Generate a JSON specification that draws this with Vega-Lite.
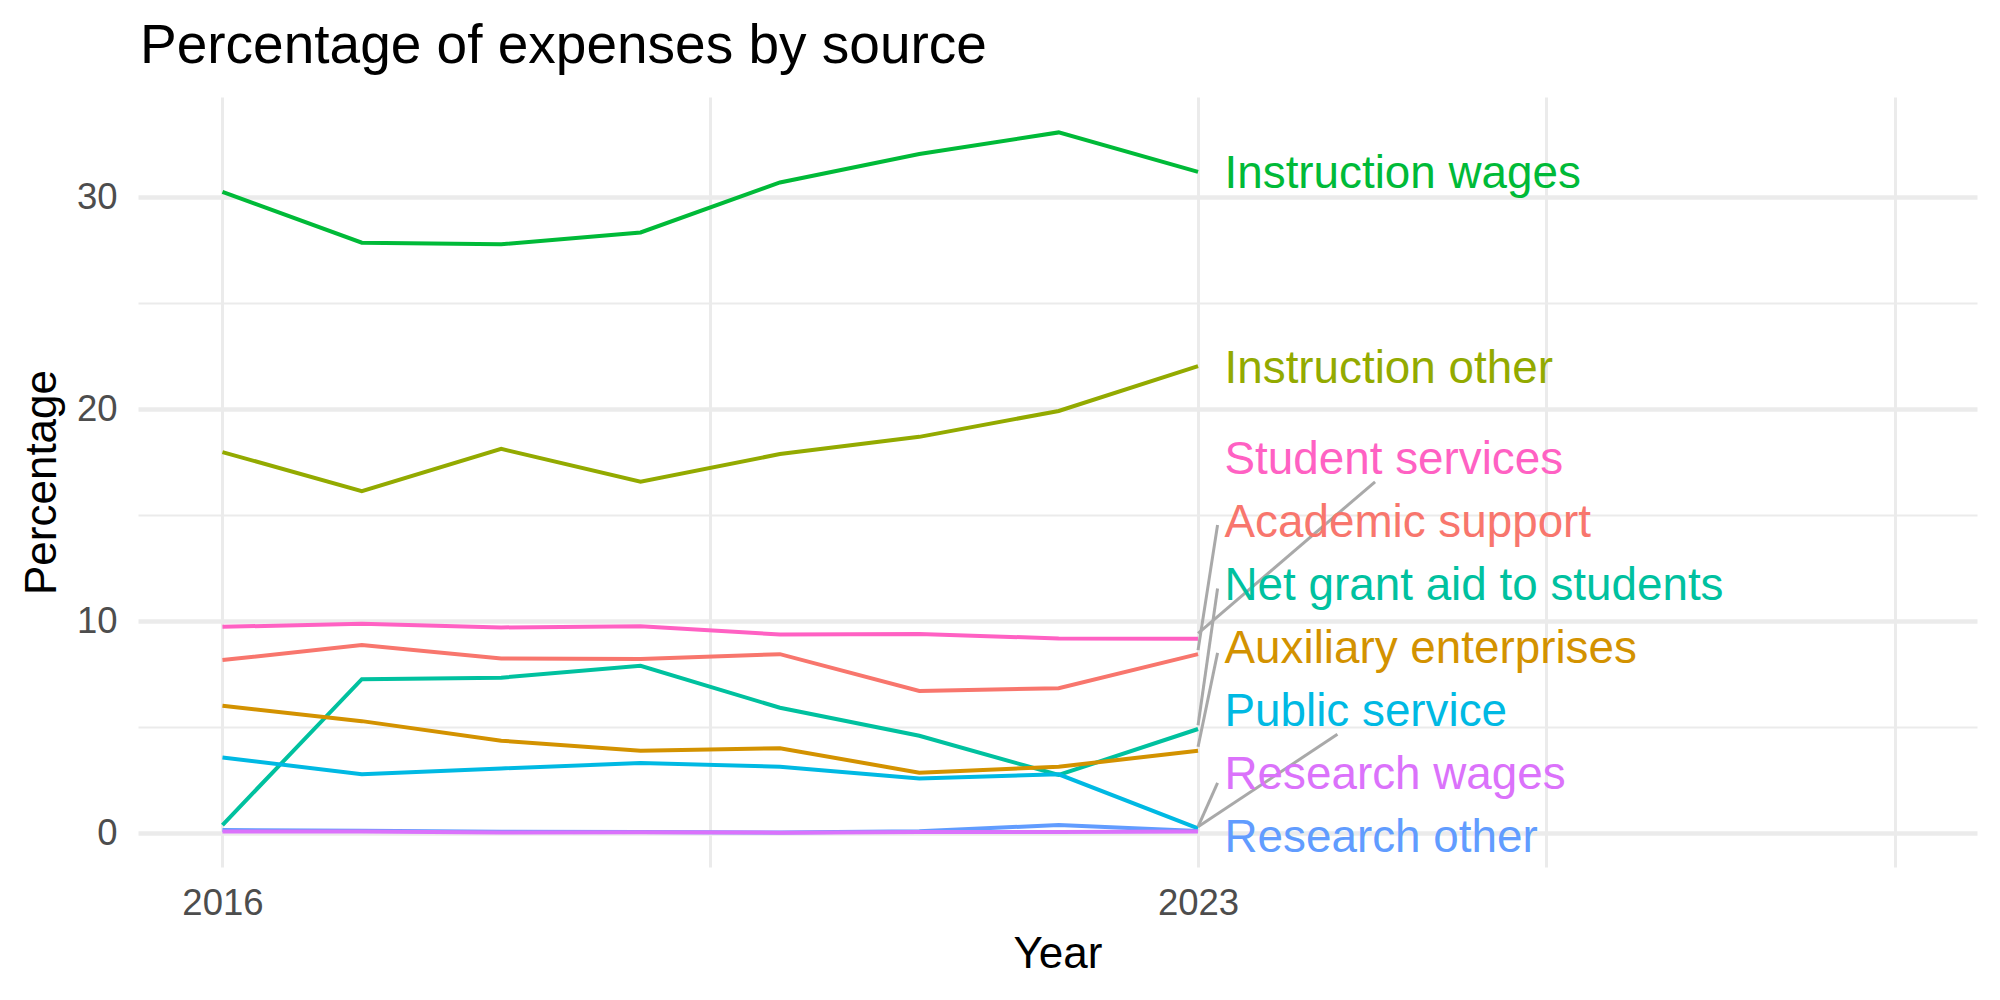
{
  "$schema": "https://vega.github.io/schema/vega-lite/v6.json",
  "autosize": {"type": "none"},
  "width": 1839,
  "height": 770,
  "padding": {"left": 138, "top": 97, "right": 23, "bottom": 133},
  "background": "white",
  "config": {"font": "Liberation Sans", "view": {"stroke": null}},
  "title": {
    "text": "Percentage of expenses by source",
    "anchor": "start",
    "frame": "group",
    "fontSize": 55,
    "fontWeight": "normal",
    "color": "black",
    "font": "Liberation Sans",
    "baseline": "alphabetic",
    "offset": -20.7,
    "dx": 2
  },
  "datasets": {
    "lines": [
      {"series": "Instruction wages", "year": 2016, "value": 30.25},
      {"series": "Instruction wages", "year": 2017, "value": 27.85},
      {"series": "Instruction wages", "year": 2018, "value": 27.77},
      {"series": "Instruction wages", "year": 2019, "value": 28.33},
      {"series": "Instruction wages", "year": 2020, "value": 30.69},
      {"series": "Instruction wages", "year": 2021, "value": 32.03},
      {"series": "Instruction wages", "year": 2022, "value": 33.05},
      {"series": "Instruction wages", "year": 2023, "value": 31.19},
      {"series": "Instruction other", "year": 2016, "value": 17.97},
      {"series": "Instruction other", "year": 2017, "value": 16.13},
      {"series": "Instruction other", "year": 2018, "value": 18.12},
      {"series": "Instruction other", "year": 2019, "value": 16.57},
      {"series": "Instruction other", "year": 2020, "value": 17.88},
      {"series": "Instruction other", "year": 2021, "value": 18.69},
      {"series": "Instruction other", "year": 2022, "value": 19.91},
      {"series": "Instruction other", "year": 2023, "value": 22.03},
      {"series": "Student services", "year": 2016, "value": 9.73},
      {"series": "Student services", "year": 2017, "value": 9.87},
      {"series": "Student services", "year": 2018, "value": 9.70},
      {"series": "Student services", "year": 2019, "value": 9.75},
      {"series": "Student services", "year": 2020, "value": 9.37},
      {"series": "Student services", "year": 2021, "value": 9.39},
      {"series": "Student services", "year": 2022, "value": 9.18},
      {"series": "Student services", "year": 2023, "value": 9.17},
      {"series": "Academic support", "year": 2016, "value": 8.16},
      {"series": "Academic support", "year": 2017, "value": 8.87},
      {"series": "Academic support", "year": 2018, "value": 8.24},
      {"series": "Academic support", "year": 2019, "value": 8.21},
      {"series": "Academic support", "year": 2020, "value": 8.44},
      {"series": "Academic support", "year": 2021, "value": 6.70},
      {"series": "Academic support", "year": 2022, "value": 6.83},
      {"series": "Academic support", "year": 2023, "value": 8.44},
      {"series": "Net grant aid to students", "year": 2016, "value": 0.38},
      {"series": "Net grant aid to students", "year": 2017, "value": 7.26},
      {"series": "Net grant aid to students", "year": 2018, "value": 7.33},
      {"series": "Net grant aid to students", "year": 2019, "value": 7.89},
      {"series": "Net grant aid to students", "year": 2020, "value": 5.91},
      {"series": "Net grant aid to students", "year": 2021, "value": 4.59},
      {"series": "Net grant aid to students", "year": 2022, "value": 2.74},
      {"series": "Net grant aid to students", "year": 2023, "value": 4.91},
      {"series": "Auxiliary enterprises", "year": 2016, "value": 6.01},
      {"series": "Auxiliary enterprises", "year": 2017, "value": 5.28},
      {"series": "Auxiliary enterprises", "year": 2018, "value": 4.36},
      {"series": "Auxiliary enterprises", "year": 2019, "value": 3.88},
      {"series": "Auxiliary enterprises", "year": 2020, "value": 4.00},
      {"series": "Auxiliary enterprises", "year": 2021, "value": 2.85},
      {"series": "Auxiliary enterprises", "year": 2022, "value": 3.13},
      {"series": "Auxiliary enterprises", "year": 2023, "value": 3.88},
      {"series": "Public service", "year": 2016, "value": 3.57},
      {"series": "Public service", "year": 2017, "value": 2.77},
      {"series": "Public service", "year": 2018, "value": 3.05},
      {"series": "Public service", "year": 2019, "value": 3.30},
      {"series": "Public service", "year": 2020, "value": 3.13},
      {"series": "Public service", "year": 2021, "value": 2.58},
      {"series": "Public service", "year": 2022, "value": 2.77},
      {"series": "Public service", "year": 2023, "value": 0.22},
      {"series": "Research other", "year": 2016, "value": 0.14},
      {"series": "Research other", "year": 2017, "value": 0.11},
      {"series": "Research other", "year": 2018, "value": 0.06},
      {"series": "Research other", "year": 2019, "value": 0.05},
      {"series": "Research other", "year": 2020, "value": 0.03},
      {"series": "Research other", "year": 2021, "value": 0.09},
      {"series": "Research other", "year": 2022, "value": 0.38},
      {"series": "Research other", "year": 2023, "value": 0.10},
      {"series": "Research wages", "year": 2016, "value": 0.08},
      {"series": "Research wages", "year": 2017, "value": 0.07},
      {"series": "Research wages", "year": 2018, "value": 0.03},
      {"series": "Research wages", "year": 2019, "value": 0.04},
      {"series": "Research wages", "year": 2020, "value": 0.02},
      {"series": "Research wages", "year": 2021, "value": 0.05},
      {"series": "Research wages", "year": 2022, "value": 0.05},
      {"series": "Research wages", "year": 2023, "value": 0.07}
    ],
    "segs": [
      {"series": "Student services", "x1": 2023.0, "y1": 9.42, "x2": 2024.27, "y2": 16.57},
      {"series": "Academic support", "x1": 2023.0, "y1": 8.63, "x2": 2023.14, "y2": 14.53},
      {"series": "Net grant aid to students", "x1": 2023.0, "y1": 5.09, "x2": 2023.14, "y2": 11.54},
      {"series": "Auxiliary enterprises", "x1": 2023.0, "y1": 4.07, "x2": 2023.14, "y2": 8.50},
      {"series": "Public service", "x1": 2023.0, "y1": 0.30, "x2": 2024.0, "y2": 4.66},
      {"series": "Research wages", "x1": 2023.0, "y1": 0.30, "x2": 2023.14, "y2": 2.37}
    ],
    "labels": [
      {"series": "Instruction wages", "lx": 2023.19, "ly": 30.41},
      {"series": "Instruction other", "lx": 2023.19, "ly": 21.24},
      {"series": "Student services", "lx": 2023.19, "ly": 16.92},
      {"series": "Academic support", "lx": 2023.19, "ly": 13.95},
      {"series": "Net grant aid to students", "lx": 2023.19, "ly": 10.99},
      {"series": "Auxiliary enterprises", "lx": 2023.19, "ly": 8.00},
      {"series": "Public service", "lx": 2023.19, "ly": 5.05},
      {"series": "Research wages", "lx": 2023.19, "ly": 2.06},
      {"series": "Research other", "lx": 2023.19, "ly": -0.91}
    ]
  },
  "resolve": {"axis": {"y": "independent"}},
  "layer": [
    {
      "data": {"name": "lines"},
      "mark": {"type": "line", "strokeWidth": 4},
      "encoding": {
        "x": {
          "field": "year", "type": "quantitative",
          "scale": {"domain": [2015.394, 2028.589], "nice": false, "zero": false},
          "axis": {
            "values": [2016, 2019.5, 2023, 2025.5, 2028],
            "labelExpr": "datum.value == 2016 || datum.value == 2023 ? '' + datum.value : ''",
            "grid": true, "gridColor": "#EBEBEB", "gridWidth": 3,
            "domain": false, "ticks": false,
            "labelFontSize": 36.5, "labelColor": "#4D4D4D", "labelPadding": 18,
            "labelFlush": false, "labelBound": false, "labelOverlap": false,
            "title": "Year", "titleFontSize": 44, "titleFontWeight": "normal", "titleColor": "black",
            "titleBaseline": "alphabetic", "titleY": 100
          }
        },
        "y": {
          "field": "value", "type": "quantitative",
          "scale": {"domain": [-1.6, 34.72], "nice": false, "zero": false},
          "axis": {
            "values": [0, 10, 20, 30],
            "grid": true, "gridColor": "#EBEBEB", "gridWidth": 4.3,
            "domain": false, "ticks": false,
            "labelFontSize": 36.5, "labelColor": "#4D4D4D", "labelPadding": 21,
            "title": "Percentage", "titleFontSize": 44, "titleFontWeight": "normal", "titleColor": "black",
            "titleBaseline": "alphabetic", "titleX": -83
          }
        },
        "color": {
          "field": "series", "type": "nominal", "legend": null,
          "scale": {
            "domain": ["Academic support", "Auxiliary enterprises", "Instruction other", "Instruction wages", "Net grant aid to students", "Public service", "Research other", "Research wages", "Student services"],
            "range": ["#F8766D", "#D39200", "#93AA00", "#00BA38", "#00C19F", "#00B9E3", "#619CFF", "#DB72FB", "#FF61C3"]
          }
        }
      }
    },
    {
      "data": {"name": "segs"},
      "mark": {"type": "rule", "stroke": "#A9A9A9", "strokeWidth": 3},
      "encoding": {
        "x": {
          "field": "x1", "type": "quantitative",
          "scale": {"domain": [2015.394, 2028.589], "nice": false, "zero": false},
          "axis": {
            "values": [2016, 2019.5, 2023, 2025.5, 2028],
            "labelExpr": "datum.value == 2016 || datum.value == 2023 ? '' + datum.value : ''",
            "grid": true, "gridColor": "#EBEBEB", "gridWidth": 3,
            "domain": false, "ticks": false,
            "labelFontSize": 36.5, "labelColor": "#4D4D4D", "labelPadding": 18,
            "labelFlush": false, "labelBound": false, "labelOverlap": false,
            "title": "Year", "titleFontSize": 44, "titleFontWeight": "normal", "titleColor": "black",
            "titleBaseline": "alphabetic", "titleY": 100
          }
        },
        "x2": {"field": "x2"},
        "y": {
          "field": "y1", "type": "quantitative",
          "scale": {"domain": [-1.6, 34.72], "nice": false, "zero": false},
          "axis": {
            "orient": "left", "values": [5, 15, 25],
            "grid": true, "gridColor": "#EBEBEB", "gridWidth": 2.2,
            "domain": false, "ticks": false, "labels": false, "title": null
          }
        },
        "y2": {"field": "y2"}
      }
    },
    {
      "data": {"name": "labels"},
      "mark": {"type": "text", "align": "left", "baseline": "alphabetic", "fontSize": 45.8, "font": "Liberation Sans"},
      "encoding": {
        "x": {
          "field": "lx", "type": "quantitative",
          "scale": {"domain": [2015.394, 2028.589], "nice": false, "zero": false},
          "axis": {
            "values": [2016, 2019.5, 2023, 2025.5, 2028],
            "labelExpr": "datum.value == 2016 || datum.value == 2023 ? '' + datum.value : ''",
            "grid": true, "gridColor": "#EBEBEB", "gridWidth": 3,
            "domain": false, "ticks": false,
            "labelFontSize": 36.5, "labelColor": "#4D4D4D", "labelPadding": 18,
            "labelFlush": false, "labelBound": false, "labelOverlap": false,
            "title": "Year", "titleFontSize": 44, "titleFontWeight": "normal", "titleColor": "black",
            "titleBaseline": "alphabetic", "titleY": 100
          }
        },
        "y": {"field": "ly", "type": "quantitative", "scale": {"domain": [-1.6, 34.72], "nice": false, "zero": false}, "axis": null},
        "text": {"field": "series"},
        "color": {"field": "series", "type": "nominal", "legend": null}
      }
    }
  ]
}
